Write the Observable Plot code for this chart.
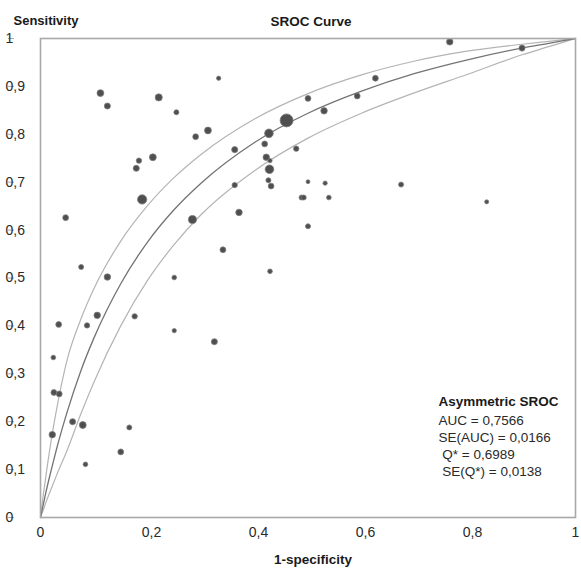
<!DOCTYPE html>
<html>
<head>
<meta charset="utf-8">
<script src="https://cdn.jsdelivr.net/npm/d3@7"></script>
<script src="https://cdn.jsdelivr.net/npm/@observablehq/plot@0.6"></script>
<style>
  html, body { margin: 0; padding: 0; background: #fff; }
  svg { display: block; }
</style>
</head>
<body>
<div id="chart"></div>
<script>
// ---- Data ----
// SROC curves (1-specificity vs sensitivity)
const curveFpr   = [0, 0.005, 0.01, 0.02, 0.03, 0.05, 0.075, 0.1, 0.15, 0.2, 0.25, 0.3, 0.4, 0.5, 0.6, 0.7, 0.8, 0.9, 0.95, 1];
const sensMid    = [0, 0.026, 0.052, 0.099, 0.143, 0.221, 0.305, 0.375, 0.488, 0.575, 0.643, 0.698, 0.783, 0.844, 0.890, 0.927, 0.956, 0.980, 0.990, 1];
const sensUpper  = [0, 0.045, 0.086, 0.161, 0.225, 0.330, 0.413, 0.478, 0.577, 0.651, 0.710, 0.758, 0.832, 0.885, 0.924, 0.953, 0.974, 0.988, 0.994, 1];
const sensLower  = [0, 0.015, 0.031, 0.060, 0.088, 0.141, 0.215, 0.283, 0.400, 0.495, 0.570, 0.632, 0.724, 0.792, 0.844, 0.887, 0.926, 0.966, 0.983, 1];

// Individual studies
const studyFpr  = [0.112,0.125,0.221,0.254,0.333,0.290,0.313,0.427,0.460,0.419,0.363,0.184,0.210,0.179,0.422,0.429,0.428,0.426,0.431,0.363,0.190,0.371,0.047,0.284,0.341,0.076,0.125,0.250,0.429,0.765,0.900,0.626,0.500,0.592,0.530,0.478,0.500,0.532,0.674,0.488,0.492,0.539,0.834,0.500,0.106,0.087,0.034,0.176,0.250,0.325,0.024,0.025,0.035,0.060,0.079,0.022,0.166,0.150,0.084];
const studySens = [0.886,0.859,0.877,0.846,0.917,0.795,0.808,0.802,0.829,0.780,0.768,0.745,0.752,0.729,0.752,0.745,0.727,0.704,0.692,0.694,0.664,0.637,0.626,0.622,0.559,0.523,0.502,0.501,0.514,0.993,0.980,0.917,0.875,0.880,0.849,0.770,0.701,0.698,0.695,0.668,0.668,0.668,0.659,0.608,0.422,0.401,0.403,0.420,0.390,0.367,0.334,0.261,0.258,0.200,0.193,0.173,0.188,0.137,0.111];
const studyWeight = [28,22,30,15,11,20,28,44,100,20,22,17,28,22,25,11,44,15,20,17,51,25,20,38,20,15,25,13,13,25,22,20,20,20,25,17,9,11,15,15,15,13,10,15,25,17,20,17,11,22,13,20,20,22,28,25,15,20,13];

// Axis ticks and labels
const xTicksEdge = [0, 1];
const xTicksInner = [0.2, 0.4, 0.6, 0.8];
const yTicks = [0, 0.1, 0.2, 0.3, 0.4, 0.5, 0.6, 0.7, 0.8, 0.9, 1];
const fmt = d => String(+d.toFixed(1)).replace(".", ",");

// Texts
const titleText = "SROC Curve";
const yTitle = "Sensitivity";
const xTitle = "1-specificity";
const statsTitle = "Asymmetric SROC";
const statsLines = ["AUC = 0,7566", "SE(AUC) = 0,0166", "\u00a0Q* = 0,6989", "\u00a0SE(Q*) = 0,0138"];

// ---- Build tables ----
const curves = [
  ...curveFpr.map((f, i) => ({f, s: sensUpper[i], band: "upper"})),
  ...curveFpr.map((f, i) => ({f, s: sensLower[i], band: "lower"})),
];
const midCurve = curveFpr.map((f, i) => ({f, s: sensMid[i]}));
const studies = studyFpr.map((f, i) => ({f, s: studySens[i], w: studyWeight[i]}));

const font = "'Liberation Sans', Arial, Helvetica, sans-serif";

const chart = Plot.plot({
  width: 581,
  height: 573,
  marginLeft: 40,
  marginRight: 6,
  marginTop: 38,
  marginBottom: 56,
  style: {fontFamily: font, fontSize: "14px", color: "#2a2a2a", background: "#fff"},
  x: {domain: [0, 1]},
  y: {domain: [0, 1]},
  r: {type: "sqrt", domain: [0, 100], range: [0, 6.5]},
  marks: [
    Plot.line(curves, {x: "f", y: "s", z: "band", stroke: "#b4b4b4", strokeWidth: 1.2, curve: "monotone-x"}),
    Plot.line(midCurve, {x: "f", y: "s", stroke: "#737373", strokeWidth: 1.3, curve: "monotone-x"}),
    Plot.dot(studies, {x: "f", y: "s", r: "w", fill: "#4f4f4f", stroke: "#7d7d7d", strokeWidth: 0.8}),
    Plot.frame({stroke: "#a8a8a8", strokeWidth: 1.6}),
    Plot.axisY(yTicks, {tickFormat: fmt, tickSize: 6, stroke: "#a8a8a8", tickPadding: 3, textAnchor: "start", dx: -26, label: null, fontSize: 14}),
    Plot.axisX(xTicksEdge, {tickFormat: fmt, tickSize: 0, tickPadding: 10, label: null, fontSize: 14}),
    Plot.axisX(xTicksInner, {tickFormat: fmt, tickSize: 0, tickPadding: 10, dx: 4, label: null, fontSize: 14}),
    Plot.text([yTitle], {frameAnchor: "top-left", text: d => d, textAnchor: "start", dx: -27, dy: -23, fontWeight: "bold", fontSize: 13, fill: "#1a1a1a"}),
    Plot.text([titleText], {frameAnchor: "top", text: d => d, dx: 3, dy: -22, fontWeight: "bold", fontSize: 13.5, fill: "#1a1a1a"}),
    Plot.text([xTitle], {frameAnchor: "bottom", text: d => d, dx: 5, dy: 46, fontWeight: "bold", fontSize: 13.5, fill: "#1a1a1a"}),
    Plot.text([statsTitle], {frameAnchor: "bottom-right", text: d => d, textAnchor: "start", dx: -137, dy: -112, fontWeight: "bold", fontSize: 13.5, fill: "#1a1a1a"}),
    Plot.text([statsLines.join("\n")], {frameAnchor: "bottom-right", text: d => d, textAnchor: "start", lineAnchor: "top", lineHeight: 1.25, dx: -137, dy: -104, fontSize: 13.5, fill: "#2a2a2a"})
  ]
});
document.getElementById("chart").appendChild(chart);
</script>
</body>
</html>
